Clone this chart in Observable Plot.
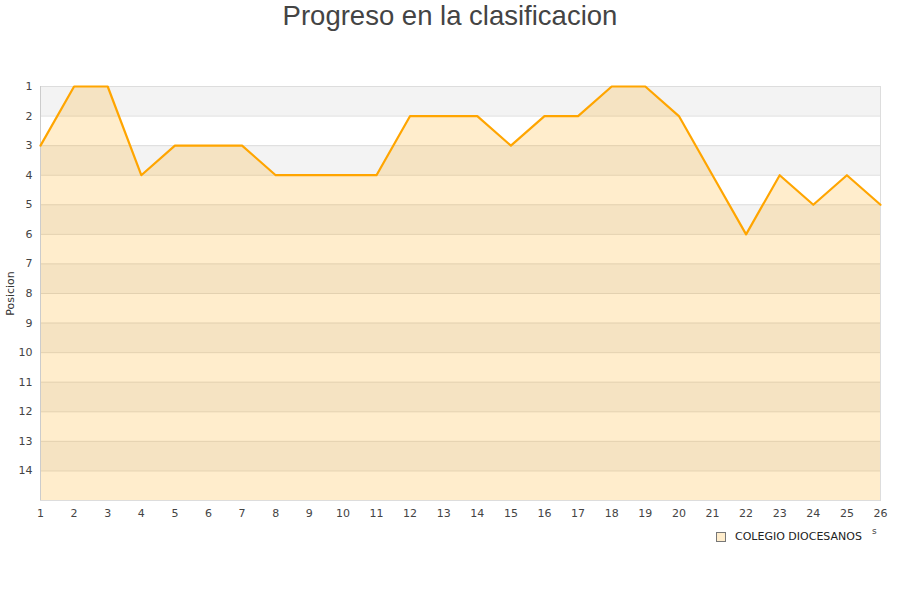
<!DOCTYPE html>
<html>
<head>
<meta charset="utf-8">
<script src="https://cdn.jsdelivr.net/npm/d3@7"></script>
<script src="https://cdn.jsdelivr.net/npm/@observablehq/plot@0.6"></script>
<style>
  html, body { margin: 0; padding: 0; background: #fff; }
  #wrap { position: relative; width: 900px; height: 600px; overflow: hidden; }
  #title { position: absolute; top: 0; left: 0; width: 900px; text-align: center;
           font-family: "Liberation Sans", Arial, sans-serif; font-size: 27.5px; color: #444; line-height: 32px; }
  #chart { position: absolute; top: 0; left: 0; }
  #legend { position: absolute; top: 530px; left: 716px; font-family: "DejaVu Sans", sans-serif;
            font-size: 11px; color: #222; display: flex; align-items: center; white-space: nowrap; }
  #legend .sw { width: 8px; height: 8px; background: #FFEDCC; border: 1px solid #777; margin-right: 9px; }
  #stub { position: absolute; top: 526px; left: 872px; font-family: "DejaVu Sans", sans-serif; font-size: 9px; color: #444; }
</style>
</head>
<body>
<div id="wrap">
  <div id="title">Progreso en la clasificacion</div>
  <div id="chart"></div>
  <div id="legend"><div class="sw"></div><span>COLEGIO DIOCESANOS</span></div>
  <div id="stub">s</div>
</div>
<script>
const jornadas = d3.range(1, 27);
const posiciones = [3,1,1,4,3,3,3,4,4,4,4,2,2,2,3,2,2,1,1,2,4,6,4,5,4,5];
const yTicks = d3.range(1, 15);
const seriesName = "COLEGIO DIOCESANOS";
const yMin = 1, yMax = 15;

const data = jornadas.map((j, i) => ({jornada: j, pos: posiciones[i]}));
const bands = yTicks.map(n => ({from: n, to: n + 1, odd: n % 2 === 1}));

const chart = Plot.plot({
  width: 900,
  height: 560,
  marginTop: 86,
  marginBottom: 60,
  marginLeft: 40,
  marginRight: 20,
  style: {fontFamily: "DejaVu Sans, sans-serif", fontSize: "11px", color: "#444", background: "transparent"},
  x: {domain: [1, 26], ticks: jornadas, tickSize: 0, tickPadding: 9, label: null, tickFormat: d3.format("d")},
  y: {domain: [yMin, yMax], reverse: true, ticks: yTicks, tickSize: 0, tickPadding: 8, label: null, tickFormat: d3.format("d")},
  marks: [
    Plot.rect(bands.filter(b => b.odd), {x1: 1, x2: 26, y1: "from", y2: "to", fill: "#f3f3f3"}),
    Plot.ruleY(yTicks.slice(1), {stroke: "#dddddd", strokeWidth: 1}),
    Plot.areaY(data, {x: "jornada", y1: yMax, y2: "pos", fill: "#FFA500", fillOpacity: 0.2}),
    Plot.frame({stroke: "#dddddd"}),
    Plot.ruleX([1], {stroke: "#cccccc"}),
    Plot.lineY(data, {x: "jornada", y: "pos", stroke: "#FFA500", strokeWidth: 2.2}),
    Plot.axisX({ticks: jornadas, tickSize: 0, tickPadding: 9, label: null, tickFormat: d3.format("d"), fill: "#444"}),
    Plot.axisY({ticks: yTicks, tickSize: 0, tickPadding: 8, label: null, tickFormat: d3.format("d"), fill: "#444"}),
    Plot.text([seriesName].map(() => "Posicion"), {frameAnchor: "left", textAnchor: "middle", dx: -30, rotate: -90, fontSize: 11, fill: "#333"})
  ]
});
document.getElementById("chart").appendChild(chart);
</script>
</body>
</html>
